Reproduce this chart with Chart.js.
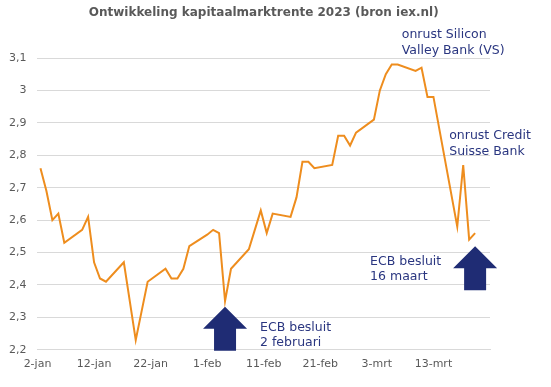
<!DOCTYPE html>
<html>
<head>
<meta charset="utf-8">
<script src="https://cdn.jsdelivr.net/npm/chart.js@4/dist/chart.umd.min.js"></script>
<style>
html, body { margin: 0; padding: 0; background: #fff; }
#wrap { width: 551px; height: 387px; }
</style>
</head>
<body>
<div id="wrap"><canvas id="canvas" width="551" height="387"></canvas></div>
<script>
// handelsdagen en slotkoers kapitaalmarktrente
var datums = [
	'2023-01-02','2023-01-03','2023-01-04','2023-01-05','2023-01-06',
	'2023-01-09','2023-01-10','2023-01-11','2023-01-12','2023-01-13',
	'2023-01-16','2023-01-17','2023-01-18','2023-01-19','2023-01-20',
	'2023-01-23','2023-01-24','2023-01-25','2023-01-26','2023-01-27',
	'2023-01-30','2023-01-31','2023-02-01','2023-02-02','2023-02-03',
	'2023-02-06','2023-02-07','2023-02-08','2023-02-09','2023-02-10',
	'2023-02-13','2023-02-14','2023-02-15','2023-02-16','2023-02-17',
	'2023-02-20','2023-02-21','2023-02-22','2023-02-23','2023-02-24',
	'2023-02-27','2023-02-28','2023-03-01','2023-03-02','2023-03-03',
	'2023-03-06','2023-03-07','2023-03-08','2023-03-09','2023-03-10',
	'2023-03-13','2023-03-14','2023-03-15','2023-03-16'
];
var rente = [
	2.76, 2.69, 2.60, 2.62, 2.53,
	2.57, 2.61, 2.47, 2.42, 2.41,
	2.47, 2.35, 2.23, 2.32, 2.41,
	2.45, 2.42, 2.42, 2.45, 2.52,
	2.555, 2.57, 2.56, 2.35, 2.45,
	2.51, 2.57, 2.63, 2.56, 2.62,
	2.61, 2.67, 2.78, 2.78, 2.76,
	2.77, 2.86, 2.86, 2.83, 2.87,
	2.91, 3.00, 3.05, 3.08, 3.08,
	3.06, 3.07, 2.98, 2.98, 2.88,
	2.58, 2.77, 2.54, 2.56
];
var asLabels = ['2-jan', '12-jan', '22-jan', '1-feb', '11-feb', '21-feb', '3-mrt', '13-mrt', ''];
var yMin = 2.2, yMax = 3.1, yStap = 0.1;

var startDag = Date.parse(datums[0]);
function dagNr(s) {
	return Math.round((Date.parse(s) - startDag) / 86400000);
}

var punten = datums.map(function(d, i) {
	return { x: dagNr(d), y: rente[i] };
});

// teksten en pijlen
var notities = [
	{ datum: '2023-03-02', dx: 10, waarde: 3.171, regels: ['onrust Silicon', 'Valley Bank (VS)'] },
	{ datum: '2023-03-14', dx: -14, waarde: 2.859, regels: ['onrust Credit', 'Suisse Bank'] },
	{ datum: '2023-02-02', dx: 35, waarde: 2.269, regels: ['ECB besluit', '2 februari'] },
	{ datum: '2023-03-16', dx: -105, waarde: 2.472, regels: ['ECB besluit', '16 maart'] }
];
var pijlen = [
	{ datum: '2023-02-02', waarde: 2.333 },
	{ datum: '2023-03-16', waarde: 2.519 }
];

var notitiePlugin = {
	id: 'notities',
	afterDatasetsDraw: function(chart) {
		var ctx = chart.ctx;
		var xs = chart.scales.x, ys = chart.scales.y;
		ctx.save();
		ctx.fillStyle = '#1f2c74';
		pijlen.forEach(function(p) {
			var cx = xs.getPixelForValue(dagNr(p.datum));
			var top = ys.getPixelForValue(p.waarde);
			ctx.beginPath();
			ctx.moveTo(cx, top);
			ctx.lineTo(cx + 22, top + 22);
			ctx.lineTo(cx + 11, top + 22);
			ctx.lineTo(cx + 11, top + 44);
			ctx.lineTo(cx - 11, top + 44);
			ctx.lineTo(cx - 11, top + 22);
			ctx.lineTo(cx - 22, top + 22);
			ctx.closePath();
			ctx.fill();
		});
		ctx.fillStyle = '#2a3680';
		ctx.font = '12.5px "DejaVu Sans"';
		ctx.textBaseline = 'middle';
		ctx.textAlign = 'left';
		notities.forEach(function(n) {
			var x = xs.getPixelForValue(dagNr(n.datum)) + n.dx;
			var y = ys.getPixelForValue(n.waarde);
			n.regels.forEach(function(r, i) {
				ctx.fillText(r, x, y + i * 15.5);
			});
		});
		ctx.restore();
	}
};

var ctx = document.getElementById('canvas').getContext('2d');
var chart = new Chart(ctx, {
	type: 'line',
	data: {
		datasets: [{
			label: 'Kapitaalmarktrente',
			data: punten,
			xAxisID: 'x',
			borderColor: '#ee8d1e',
			borderWidth: 2,
			pointRadius: 0,
			tension: 0,
			fill: false
		}]
	},
	options: {
		responsive: false,
		animation: false,
		layout: { padding: { left: -2, right: 61, top: 0, bottom: 8 } },
		plugins: {
			legend: { display: false },
			tooltip: { enabled: false },
			title: {
				display: true,
				fullSize: false,
				text: 'Ontwikkeling kapitaalmarktrente 2023 (bron iex.nl)',
				color: '#595959',
				font: { family: '"DejaVu Sans"', size: 12, weight: 'bold' },
				padding: { top: 6, bottom: 37.6 }
			}
		},
		scales: {
			x: {
				type: 'linear',
				display: false,
				min: -0.5,
				max: 75.5
			},
			x2: {
				type: 'category',
				labels: asLabels,
				position: 'bottom',
				offset: false,
				grid: { display: false, drawTicks: false },
				border: { display: true, color: '#d9d9d9' },
				ticks: {
					color: '#595959',
					font: { family: '"DejaVu Sans"', size: 11 },
					padding: 8,
					maxRotation: 0,
					autoSkip: false
				}
			},
			y: {
				min: yMin,
				max: yMax,
				grid: { color: '#d9d9d9', drawTicks: false },
				border: { display: false },
				ticks: {
					stepSize: yStap,
					color: '#595959',
					font: { family: '"DejaVu Sans"', size: 11 },
					padding: 11,
					callback: function(v) {
						return String(Math.round(v * 10) / 10).replace('.', ',');
					}
				}
			}
		}
	},
	plugins: [notitiePlugin]
});
</script>
</body>
</html>
